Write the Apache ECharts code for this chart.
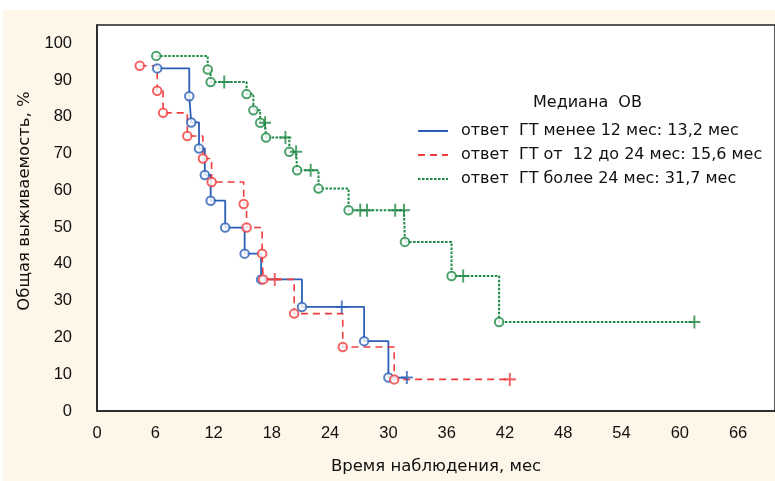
<!DOCTYPE html>
<html>
<head>
<meta charset="utf-8">
<script src="https://cdn.jsdelivr.net/npm/echarts@6/dist/echarts.min.js"></script>
<style>
  html, body { margin: 0; padding: 0; background: #fff; }
  #main { position: absolute; left: 3px; top: 10px; width: 772px; height: 471px; }
</style>
</head>
<body>
<div id="main"></div>
<script>
// [время, мес ; выживаемость, %]
const blueEvents = [[6.2, 93.2], [9.5, 85.6], [9.7, 78.5], [10.5, 71.4], [11.1, 64.2], [11.7, 57.2],
  [13.2, 49.9], [15.2, 42.8], [16.9, 35.8], [21.1, 28.3], [27.5, 19.0], [30.0, 9.1]]
const blueCensored = [[25.2, 28.3], [31.9, 9.1]]

const redEvents = [[4.4, 93.9], [6.2, 87.1], [6.8, 81.1], [9.3, 74.8], [10.9, 68.7], [11.8, 62.3],
  [15.1, 56.3], [15.4, 49.9], [17.0, 42.8], [17.1, 35.8], [20.3, 26.5], [25.3, 17.4], [30.6, 8.6]]
const redCensored = [[18.3, 35.8], [42.5, 8.6]]

const greenEvents = [[6.1, 96.6], [11.4, 92.9], [11.7, 89.5], [15.4, 86.2], [16.1, 81.8], [16.8, 78.4],
  [17.4, 74.4], [19.8, 70.5], [20.6, 65.5], [22.8, 60.5], [25.9, 54.6], [31.7, 46.0], [36.5, 36.7], [41.4, 24.2]]
const greenCensored = [[13.1, 89.5], [17.3, 78.4], [19.4, 74.4], [20.5, 70.5], [22.0, 65.5], [27.1, 54.6],
  [27.8, 54.6], [30.7, 54.6], [31.6, 54.6], [37.7, 36.7], [61.5, 24.2]]

const groupNames = [
  'ответ  ГТ менее 12 мес: 13,2 мес',
  'ответ  ГТ от  12 до 24 мес: 15,6 мес',
  'ответ  ГТ более 24 мес: 31,7 мес'
]
const legendTitle = 'Медиана  ОВ'

const font = '"Liberation Sans", Arial, sans-serif'
const wideFont = '"DejaVu Sans", "Liberation Sans", sans-serif'
const plusIcon = 'path://M0,4.2H10V5.8H0Z M4.2,0H5.8V10H4.2Z'

// все точки кривой по порядку (события + цензурированные)
const curve = function (events, censored) {
  return events.concat(censored).sort((a, b) => a[0] - b[0])
}

const groups = [
  { events: blueEvents, censored: blueCensored, color: '#2b5fb6', dash: 'solid', width: 1.8,
    icon: 'path://M0,0H30V2H0Z' },
  { events: redEvents, censored: redCensored, color: '#f03c3c', dash: [7, 5], width: 1.6,
    icon: 'path://M0,0H7V2H0Z M12,0H19V2H12Z M24,0H30V2H24Z' },
  { events: greenEvents, censored: greenCensored, color: '#1f8a46', dash: [2.5, 1.5], width: 2,
    icon: 'path://M0,0H2.5V2H0Z M4,0H6.5V2H4Z M8,0H10.5V2H8Z M12,0H14.5V2H12Z M16,0H18.5V2H16Z M20,0H22.5V2H20Z M24,0H26.5V2H24Z M28,0H30V2H28Z' }
]

const series = []
groups.forEach((g, i) => {
  series.push({
    name: groupNames[i],
    type: 'line',
    step: 'end',
    symbol: 'none',
    color: g.color,
    lineStyle: { color: g.color, width: g.width, type: g.dash },
    data: curve(g.events, g.censored),
    z: 2 + i
  })
  series.push({
    name: 'events' + i,
    type: 'scatter',
    symbol: 'circle',
    symbolSize: 8.5,
    itemStyle: { color: '#fff', borderColor: g.color, borderWidth: 2 },
    data: g.events,
    z: 5 + i
  })
  series.push({
    name: 'censored' + i,
    type: 'scatter',
    symbol: plusIcon,
    symbolSize: [12, 13],
    itemStyle: { color: g.color },
    data: g.censored,
    z: 5 + i
  })
})

const myChart = echarts.init(document.getElementById('main'))
myChart.setOption({
  backgroundColor: '#fdf6e9',
  animation: false,
  title: {
    text: legendTitle,
    left: 525,
    top: 80,
    textStyle: { fontFamily: wideFont, fontSize: 16, fontWeight: 'normal', color: '#111' }
  },
  legend: {
    orient: 'vertical',
    left: 410,
    top: 108,
    itemWidth: 30,
    itemHeight: 2,
    itemGap: 8,
    itemStyle: { borderWidth: 0 },
    textStyle: { fontFamily: wideFont, fontSize: 16, color: '#111', padding: [0, 0, 0, 8] },
    data: groupNames.map((n, i) => ({ name: n, icon: groups[i].icon }))
  },
  grid: {
    left: 94, top: 15, right: -2, bottom: 70,
    show: true, backgroundColor: '#fff', borderColor: '#222', borderWidth: 1.5
  },
  xAxis: {
    type: 'value',
    min: 0, max: 69.8, interval: 6,
    name: 'Время наблюдения, мес',
    nameLocation: 'middle',
    nameGap: 47,
    nameTextStyle: { fontFamily: wideFont, fontSize: 16.5, color: '#111' },
    axisLine: { lineStyle: { color: '#222', width: 1.5 } },
    axisTick: { show: false },
    splitLine: { show: false },
    axisLabel: { showMaxLabel: false, margin: 14, fontFamily: font, fontSize: 16.5, color: '#111' }
  },
  yAxis: {
    type: 'value',
    min: 0, max: 105, interval: 10,
    name: 'Общая выживаемость, %',
    nameLocation: 'middle',
    nameGap: 64,
    nameTextStyle: { fontFamily: wideFont, fontSize: 16.5, color: '#111', padding: [0, 0, 0, 34] },
    axisLine: { lineStyle: { color: '#222', width: 1.5 } },
    axisTick: { show: false },
    splitLine: { show: false },
    axisLabel: { showMaxLabel: false, margin: 25, fontFamily: font, fontSize: 16.5, color: '#111' }
  },
  series: series
})
</script>
</body>
</html>
